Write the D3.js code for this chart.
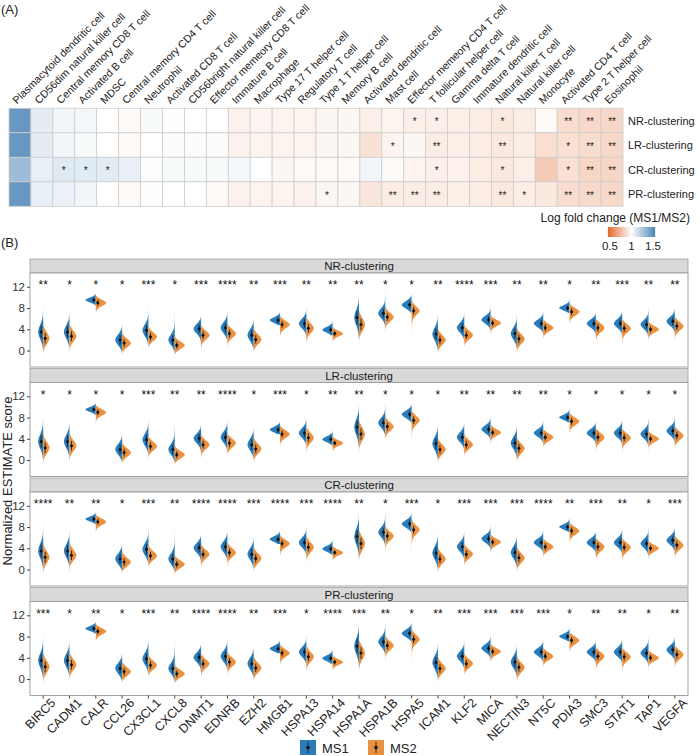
<!DOCTYPE html>
<html lang="en">
<head>
<meta charset="UTF-8">
<script src="https://d3js.org/d3.v7.min.js"></script>
<title>Immune infiltration and ICD genes</title>
<style>
  body { margin: 0; background: #fff; }
  svg text { font-family: Arial, "Liberation Sans", sans-serif; }
</style>
</head>
<body>
<script>
  // ---- (A) heatmap data ----
  const cellTypes = ["Plasmacytoid dendritic cell", "CD56dim natural killer cell", "Central memory CD8 T cell",
    "Activated B cell", "MDSC", "Central memory CD4 T cell", "Neutrophil", "Activated CD8 T cell",
    "CD56bright natural killer cell", "Effector memeory CD8 T cell", "Immature B cell", "Macrophage",
    "Type 17 T helper cell", "Regulatory T cell", "Type 1 T helper cell", "Memory B cell",
    "Activated dendritic cell", "Mast cell", "Effector memeory CD4 T cell", "T follicular helper cell",
    "Gamma delta T cell", "Immature dendritic cell", "Natural killer T cell", "Natural killer cell",
    "Monocyte", "Activated CD4 T cell", "Type 2 T helper cell", "Eosinophil"];
  const clusterings = ["NR-clustering", "LR-clustering", "CR-clustering", "PR-clustering"];

  const fcNR = [1.46, 1.08, 1.04, 1.035, 1.00, 0.98, 1.02, 1.005, 1.00, 1.00, 0.95, 0.965, 0.96, 0.96, 0.97,
    0.97, 0.94, 0.96, 0.94, 0.94, 0.94, 0.93, 0.92, 0.93, 0.98, 0.87, 0.86, 0.855];
  const fcLR = [1.46, 1.08, 1.04, 1.02, 1.00, 0.98, 1.00, 0.99, 0.99, 0.99, 0.95, 0.96, 0.96, 0.96, 0.97,
    0.97, 0.89, 0.96, 0.97, 0.93, 0.94, 0.93, 0.915, 0.93, 0.88, 0.885, 0.87, 0.86];
  const fcCR = [1.30, 1.07, 1.10, 1.09, 1.09, 1.07, 1.01, 1.02, 1.02, 1.02, 1.03, 1.00, 0.97, 0.98, 0.98,
    0.98, 1.04, 0.98, 0.96, 0.94, 0.95, 0.93, 0.92, 0.94, 0.81, 0.885, 0.85, 0.85];
  const fcPR = [1.46, 1.07, 1.06, 1.04, 1.00, 0.98, 1.01, 1.00, 1.00, 0.98, 0.95, 0.96, 0.96, 0.95, 0.97,
    0.97, 0.91, 0.93, 0.93, 0.93, 0.94, 0.93, 0.915, 0.93, 0.92, 0.875, 0.865, 0.86];

  const hmSigNR = ["", "", "", "", "", "", "", "", "", "", "", "", "", "", "", "", "", "", "*", "*", "", "", "*", "", "", "**", "**", "**"];
  const hmSigLR = ["", "", "", "", "", "", "", "", "", "", "", "", "", "", "", "", "", "*", "", "**", "", "", "**", "", "", "*", "**", "**"];
  const hmSigCR = ["", "", "*", "*", "*", "", "", "", "", "", "", "", "", "", "", "", "", "", "", "*", "", "", "*", "", "", "*", "**", "**"];
  const hmSigPR = ["", "", "", "", "", "", "", "", "", "", "", "", "", "", "*", "", "", "**", "**", "**", "", "", "**", "*", "", "**", "**", "**"];

  const legendTicks = [0.5, 1, 1.5];

  // ---- (B) violin data ----
  const genes = ["BIRC5", "CADM1", "CALR", "CCL26", "CX3CL1", "CXCL8", "DNMT1", "EDNRB", "EZH2", "HMGB1",
    "HSPA13", "HSPA14", "HSPA1A", "HSPA1B", "HSPA5", "ICAM1", "KLF2", "MICA", "NECTIN3", "NT5C", "PDIA3",
    "SMC3", "STAT1", "TAP1", "VEGFA"];

  const ms1Median = [3.5, 3.5, 9.5, 2.0, 3.8, 2.0, 4.1, 4.3, 2.9, 5.7, 5.1, 3.9, 6.2, 7.0, 8.6, 3.1, 4.3, 5.8, 3.2, 5.1, 8.0, 5.1, 5.1, 4.9, 5.5];
  const ms1Spread = [1.3, 1.2, 0.45, 1.0, 1.1, 1.0, 0.9, 1.0, 1.1, 0.55, 0.9, 0.55, 1.4, 0.9, 0.7, 1.2, 0.9, 0.7, 1.1, 0.7, 0.5, 0.75, 0.8, 0.8, 0.8];
  const ms1Low = [-1.7, -1.2, 8.4, -0.7, -0.4, -1.0, 0.2, 0.7, -0.6, 4.8, 2.0, 2.6, 0.2, 2.9, 6.7, -1.5, 0.7, 2.3, -0.4, 2.3, 7.0, 2.3, 1.8, 0.7, 2.3];
  const ms1High = [10.3, 8.3, 11.0, 5.6, 9.2, 9.2, 7.0, 8.0, 6.7, 7.5, 8.6, 5.9, 11.6, 12.2, 11.0, 7.8, 7.8, 9.2, 7.3, 8.1, 10.3, 7.3, 8.3, 8.9, 8.6];

  const ms2Median = [2.3, 2.7, 9.0, 1.4, 2.6, 1.0, 2.9, 3.2, 2.1, 4.9, 4.2, 3.2, 4.9, 6.3, 7.5, 2.0, 2.9, 5.2, 2.2, 4.3, 7.3, 4.3, 4.2, 4.0, 4.6];
  const ms2Spread = [1.1, 1.0, 0.6, 0.8, 0.8, 0.7, 0.8, 0.8, 0.9, 0.7, 0.9, 0.5, 1.2, 0.8, 0.8, 0.9, 0.8, 0.6, 0.9, 0.7, 0.7, 0.8, 0.8, 0.6, 0.8];
  const ms2Low = [-0.7, -0.5, 6.2, -0.6, 0.4, -1.0, -0.6, 0.2, -0.3, 1.8, 0.2, 0.8, 1.3, 2.6, 1.8, -0.6, 0.7, 2.3, -1.2, 2.1, 4.0, 0.2, 0.2, 1.8, 1.3];
  const ms2High = [6.4, 6.0, 10.5, 4.0, 5.6, 3.0, 5.3, 5.6, 5.0, 6.7, 7.0, 5.0, 7.5, 8.9, 10.0, 4.5, 5.6, 7.0, 4.3, 5.9, 8.9, 5.9, 5.9, 5.9, 6.4];

  const sigNR = ["**", "*", "*", "*", "***", "*", "***", "****", "**", "***", "**", "**", "**", "*", "*", "**", "****", "***", "**", "**", "*", "**", "***", "**", "**"];
  const sigLR = ["*", "*", "*", "*", "***", "**", "**", "****", "*", "***", "*", "**", "**", "*", "*", "*", "**", "**", "**", "**", "*", "*", "*", "*", "*"];
  const sigCR = ["****", "**", "**", "*", "***", "**", "****", "****", "***", "****", "***", "****", "**", "*", "***", "*", "***", "***", "***", "****", "**", "***", "**", "*", "***"];
  const sigPR = ["***", "*", "**", "*", "***", "**", "****", "****", "**", "***", "*", "****", "***", "**", "*", "**", "***", "***", "***", "***", "*", "**", "**", "*", "**"];

  const yTicks = [0, 4, 8, 12];

  // ---- setup ----
  const width = 700, height = 756;
  const svg = d3.select("body").append("svg")
    .attr("width", width)
    .attr("height", height);
  const defs = svg.append("defs");

  const blue = "#2a7dbc", orange = "#ea9140";

  // panel letters
  svg.append("text").attr("x", 1).attr("y", 14).attr("font-size", 13).attr("fill", "#222").text("(A)");
  svg.append("text").attr("x", 1).attr("y", 247).attr("font-size", 13).attr("fill", "#222").text("(B)");

  // ================= (A) heatmap =================
  const fcRows = [fcNR, fcLR, fcCR, fcPR];
  const sigRows = [hmSigNR, hmSigLR, hmSigCR, hmSigPR];
  const cells = [];
  clusterings.forEach((c, i) => cellTypes.forEach((t, j) => {
    cells.push({ row: c, col: t, value: fcRows[i][j], sig: sigRows[i][j] });
  }));

  const hmX = d3.scaleBand().domain(cellTypes).range([9, 623]);
  const hmY = d3.scaleBand().domain(clusterings).range([108.3, 206.3]);
  const fill = d3.scaleLinear()
    .domain([0.45, 1, 1.55])
    .range(["#e2692b", "#ffffff", "#4a84b5"])
    .clamp(true);

  const hm = svg.append("g");
  hm.selectAll("rect.cell")
    .data(cells)
    .enter().append("rect")
    .attr("class", "cell")
    .attr("x", d => hmX(d.col))
    .attr("y", d => hmY(d.row))
    .attr("width", hmX.bandwidth())
    .attr("height", hmY.bandwidth())
    .attr("fill", d => fill(d.value))
    .attr("stroke", "#cdcdcd")
    .attr("stroke-width", 0.8);

  hm.selectAll("text.sig")
    .data(cells.filter(d => d.sig))
    .enter().append("text")
    .attr("class", "sig")
    .attr("x", d => hmX(d.col) + hmX.bandwidth() / 2)
    .attr("y", d => hmY(d.row) + hmY.bandwidth() / 2 + 4.5)
    .attr("text-anchor", "middle")
    .attr("font-size", 10)
    .attr("fill", "#222")
    .text(d => d.sig);

  // column labels, 45 degrees
  hm.selectAll("text.col")
    .data(cellTypes)
    .enter().append("text")
    .attr("class", "col")
    .attr("transform", d => `translate(${hmX(d) + hmX.bandwidth() / 2 - 3},104.5) rotate(-45)`)
    .attr("font-size", 10.6)
    .attr("fill", "#222")
    .text(d => d);

  // row labels
  hm.selectAll("text.row")
    .data(clusterings)
    .enter().append("text")
    .attr("class", "row")
    .attr("x", 628)
    .attr("y", d => hmY(d) + hmY.bandwidth() / 2 + 4)
    .attr("font-size", 11)
    .attr("fill", "#222")
    .text(d => d);

  // colour legend
  const legX = d3.scaleLinear().domain([0.5, 1.5]).range([610, 653]);
  const grad = defs.append("linearGradient").attr("id", "fcgrad");
  d3.range(0, 1.0001, 0.1).forEach(t => {
    const v = 0.45 + t * 1.1;
    grad.append("stop").attr("offset", t).attr("stop-color", fill(v));
  });
  svg.append("text")
    .attr("x", 690).attr("y", 222)
    .attr("text-anchor", "end")
    .attr("font-size", 12)
    .attr("fill", "#222")
    .text("Log fold change (MS1/MS2)");
  svg.append("rect")
    .attr("x", legX(0.45)).attr("y", 227)
    .attr("width", legX(1.55) - legX(0.45)).attr("height", 10)
    .attr("fill", "url(#fcgrad)");
  svg.selectAll("text.legtick")
    .data(legendTicks)
    .enter().append("text")
    .attr("class", "legtick")
    .attr("x", d => legX(d))
    .attr("y", 250)
    .attr("text-anchor", "middle")
    .attr("font-size", 11.5)
    .attr("fill", "#222")
    .text(d => d);

  // ================= (B) split violins =================
  const left = 30, right = 688;
  const vx = d3.scaleBand().domain(genes).range([left, right]);
  const panelStep = 109.5, stripH = 14, panelH = 108, firstTop = 259;
  const sigPanels = [sigNR, sigLR, sigCR, sigPR];

  const groupData = [
    { name: "MS1", color: blue, side: -1, med: ms1Median, sd: ms1Spread, lo: ms1Low, hi: ms1High },
    { name: "MS2", color: orange, side: 1, med: ms2Median, sd: ms2Spread, lo: ms2Low, hi: ms2High }
  ];

  // density profile for one violin from its summary values
  function profile(m, s, lo, hi) {
    const n = 70, pts = [];
    for (let k = 0; k <= n; k++) {
      const v = lo + (hi - lo) * k / n;
      const t = v >= m ? (v - m) / (hi - m) : (m - v) / (m - lo);
      const f = Math.exp(-0.5 * ((v - m) / s) ** 2) + 0.18 * (1 - Math.min(1, t)) ** 2;
      pts.push({ v: v, f: f / 1.18 });
    }
    const area = d3.sum(pts, p => p.f) * (hi - lo) / n;
    const maxW = Math.min(10.5, 17 / area);
    pts.forEach(p => p.w = p.f * maxW);
    return pts;
  }

  let gradId = 0;
  clusterings.forEach((cl, pi) => {
    const top = firstTop + pi * panelStep;
    const plotTop = top + stripH, plotBottom = top + panelH;
    const y = d3.scaleLinear().domain([-3.1, 14.6]).range([plotBottom, plotTop]);
    const g = svg.append("g");

    // strip
    g.append("rect")
      .attr("x", left).attr("y", top)
      .attr("width", right - left).attr("height", stripH)
      .attr("fill", "#d9d9d9").attr("stroke", "#a0a0a0").attr("stroke-width", 0.8);
    g.append("text")
      .attr("x", (left + right) / 2).attr("y", top + 11)
      .attr("text-anchor", "middle")
      .attr("font-size", 11.5)
      .attr("fill", "#1a1a1a")
      .text(cl);

    // panel
    g.append("rect")
      .attr("x", left).attr("y", plotTop)
      .attr("width", right - left).attr("height", plotBottom - plotTop)
      .attr("fill", "#fff").attr("stroke", "#9a9a9a").attr("stroke-width", 0.9);

    // y axis
    const yAxis = g.append("g")
      .attr("transform", `translate(${left},0)`)
      .call(d3.axisLeft(y).tickValues(yTicks).tickSize(3).tickPadding(2));
    yAxis.select(".domain").remove();
    yAxis.selectAll("line").attr("stroke", "#444");
    yAxis.selectAll("text").attr("font-size", 11.5).attr("fill", "#333")
      .style("font-family", "Arial, 'Liberation Sans', sans-serif");

    // violins
    genes.forEach((gene, gi) => {
      const cx = vx(gene) + vx.bandwidth() / 2;
      groupData.forEach(gr => {
        const m = gr.med[gi], s = gr.sd[gi], lo = gr.lo[gi], hi = gr.hi[gi];
        const pts = profile(m, s, lo, hi);
        const id = "vg" + (gradId++);
        const lg = defs.append("linearGradient")
          .attr("id", id)
          .attr("gradientUnits", "userSpaceOnUse")
          .attr("x1", 0).attr("x2", 0)
          .attr("y1", y(hi)).attr("y2", y(lo));
        const o1 = Math.max(0.02, Math.min(0.98, (hi - (m + 1.6 * s)) / (hi - lo)));
        const o2 = Math.max(o1, Math.min(0.98, (hi - (m - 1.6 * s)) / (hi - lo)));
        lg.append("stop").attr("offset", 0).attr("stop-color", gr.color).attr("stop-opacity", 0.2);
        lg.append("stop").attr("offset", o1).attr("stop-color", gr.color).attr("stop-opacity", 1);
        lg.append("stop").attr("offset", o2).attr("stop-color", gr.color).attr("stop-opacity", 1);
        lg.append("stop").attr("offset", 1).attr("stop-color", gr.color).attr("stop-opacity", 0.2);

        const area = d3.area()
          .y(p => y(p.v))
          .x0(cx)
          .x1(p => cx + gr.side * p.w)
          .curve(d3.curveBasis);
        g.append("path")
          .attr("d", area(pts))
          .attr("fill", `url(#${id})`);
      });
      // median and spread bars
      groupData.forEach(gr => {
        const m = gr.med[gi], s = gr.sd[gi];
        const bx = cx + gr.side * 2;
        g.append("line")
          .attr("x1", bx).attr("x2", bx)
          .attr("y1", y(m - 0.9 * s)).attr("y2", y(m + 0.9 * s))
          .attr("stroke", "#111").attr("stroke-width", 0.8);
        g.append("circle")
          .attr("cx", bx).attr("cy", y(m)).attr("r", 1.5)
          .attr("fill", "#111");
      });
    });

    // significance
    g.selectAll("text.star")
      .data(genes)
      .enter().append("text")
      .attr("class", "star")
      .attr("x", d => vx(d) + vx.bandwidth() / 2)
      .attr("y", y(12.9) + 7)
      .attr("text-anchor", "middle")
      .attr("font-size", 12)
      .attr("fill", "#111")
      .text((d, i) => sigPanels[pi][i]);

    // x axis on last panel
    if (pi === clusterings.length - 1) {
      const xAxis = g.append("g")
        .attr("transform", `translate(0,${plotBottom})`)
        .call(d3.axisBottom(vx).tickSize(3).tickSizeOuter(0).tickPadding(1));
      xAxis.select(".domain").remove();
      xAxis.selectAll("line").attr("stroke", "#444");
      xAxis.selectAll("text")
        .attr("font-size", 12.5)
        .attr("fill", "#222")
        .attr("text-anchor", "end")
        .attr("transform", "translate(5,0) rotate(-45)")
        .attr("dy", "0.6em")
        .style("font-family", "Arial, 'Liberation Sans', sans-serif");
    }
  });

  // y title
  svg.append("text")
    .attr("transform", "translate(12,481) rotate(-90)")
    .attr("text-anchor", "middle")
    .attr("font-size", 13)
    .attr("fill", "#222")
    .text("Normalized ESTIMATE score");

  // group legend
  const leg = svg.append("g").selectAll("g")
    .data(groupData)
    .enter().append("g")
    .attr("transform", (d, i) => `translate(${300 + i * 68},740)`);
  leg.append("rect")
    .attr("width", 16).attr("height", 15)
    .attr("fill", d => d.color);
  leg.append("line")
    .attr("x1", 8).attr("x2", 8).attr("y1", 2).attr("y2", 13)
    .attr("stroke", "#111").attr("stroke-width", 0.8);
  leg.append("circle")
    .attr("cx", 8).attr("cy", 7.5).attr("r", 1.8).attr("fill", "#111");
  leg.append("text")
    .attr("x", 22).attr("y", 12.5)
    .attr("font-size", 13)
    .attr("fill", "#222")
    .text(d => d.name);
</script>
</body>
</html>
